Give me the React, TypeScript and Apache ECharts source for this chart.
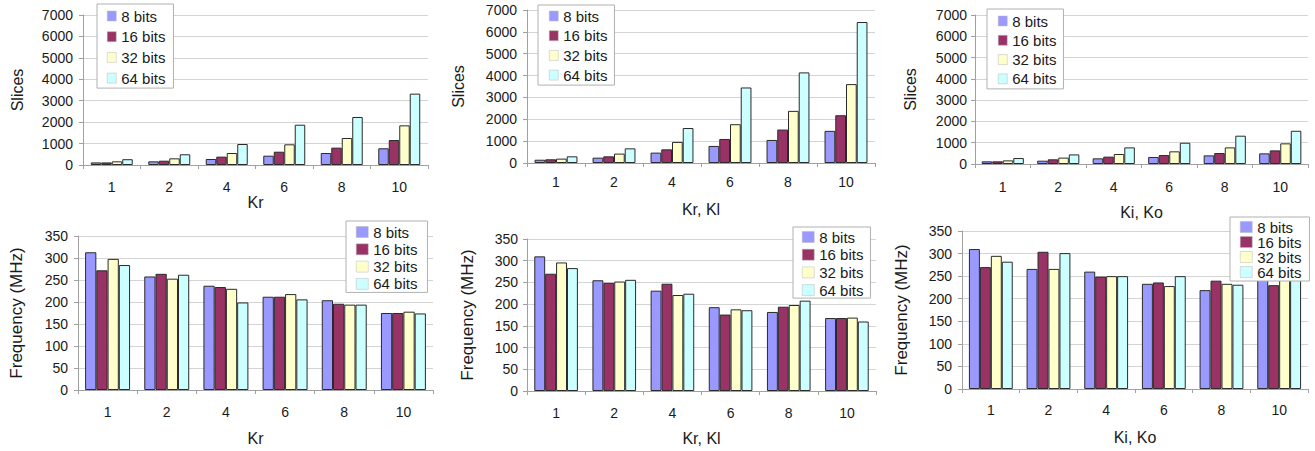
import React, { useEffect, useRef } from "react";
import * as echarts from "echarts";

const categories = ["1", "2", "4", "6", "8", "10"];
const seriesNames = ["8 bits", "16 bits", "32 bits", "64 bits"];
const colors = ["#9999FF", "#993366", "#FFFFCC", "#CCFFFF"];

// Top row: Slices
const slicesKr8 = [120, 170, 280, 435, 560, 780];
const slicesKr16 = [120, 200, 390, 620, 810, 1165];
const slicesKr32 = [170, 310, 560, 965, 1260, 1850];
const slicesKr64 = [270, 500, 980, 1880, 2240, 3330];

const slicesKrKl8 = [150, 245, 475, 780, 1055, 1470];
const slicesKrKl16 = [170, 305, 625, 1100, 1530, 2185];
const slicesKrKl32 = [200, 430, 965, 1775, 2385, 3610];
const slicesKrKl64 = [305, 670, 1600, 3455, 4145, 6450];

const slicesKiKo8 = [125, 155, 265, 330, 405, 500];
const slicesKiKo16 = [125, 220, 345, 420, 515, 640];
const slicesKiKo32 = [170, 300, 470, 595, 780, 970];
const slicesKiKo64 = [280, 450, 780, 1000, 1330, 1560];

// Bottom row: Frequency (MHz)
const freqKr8 = [313, 258, 237, 212, 204, 175];
const freqKr16 = [272, 264, 234, 212, 196, 175];
const freqKr32 = [298, 253, 230, 218, 194, 178];
const freqKr64 = [284, 262, 199, 206, 194, 174];

const freqKrKl8 = [310, 255, 231, 193, 182, 168];
const freqKrKl16 = [270, 249, 247, 176, 194, 168];
const freqKrKl32 = [296, 252, 221, 188, 198, 169];
const freqKrKl64 = [283, 256, 224, 186, 208, 160];

const freqKiKo8 = [310, 266, 260, 233, 219, 250];
const freqKiKo16 = [270, 304, 249, 236, 240, 230];
const freqKiKo32 = [295, 266, 250, 228, 233, 245];
const freqKiKo64 = [282, 301, 250, 250, 231, 248];

const slicesTicks = { max: 7000, interval: 1000 };
const freqTicks = { max: 350, interval: 50 };

const FONT = "'Liberation Sans', Arial, sans-serif";
const TXT = "#1a1a1a";

type Panel = {
  data: number[][];
  xName: string;
  yName: string;
  ticks: { max: number; interval: number };
  grid: { left: number; top: number; width: number; height: number };
  xLabelMargin: number;
  xNameGap: number;
  yNameGap: number;
  yLabelMargin: number;
  yNameSize: number;
  catGap: string;
  legend: { left: number; top: number; pad: number[]; gap: number; iw: number; ih: number };
};

const panels: Panel[] = [
  {
    data: [slicesKr8, slicesKr16, slicesKr32, slicesKr64],
    xName: "Kr", yName: "Slices", ticks: slicesTicks,
    grid: { left: 83, top: 15, width: 345, height: 150 },
    xLabelMargin: 15, xNameGap: 26, yNameGap: 58, yLabelMargin: 10, yNameSize: 16, catGap: "27%",
    legend: { left: 97, top: 4, pad: [4.5, 8, 2.5, 10], gap: 5.7, iw: 9, ih: 10 },
  },
  {
    data: [slicesKrKl8, slicesKrKl16, slicesKrKl32, slicesKrKl64],
    xName: "Kr, Kl", yName: "Slices", ticks: slicesTicks,
    grid: { left: 527, top: 10, width: 348, height: 153 },
    xLabelMargin: 12, xNameGap: 38, yNameGap: 61, yLabelMargin: 10, yNameSize: 16, catGap: "26%",
    legend: { left: 538, top: 5, pad: [3.5, 7, 2.5, 11], gap: 4.7, iw: 9, ih: 10 },
  },
  {
    data: [slicesKiKo8, slicesKiKo16, slicesKiKo32, slicesKiKo64],
    xName: "Ki, Ko", yName: "Slices", ticks: slicesTicks,
    grid: { left: 975, top: 15, width: 333, height: 149 },
    xLabelMargin: 16, xNameGap: 40, yNameGap: 57, yLabelMargin: 8, yNameSize: 16, catGap: "24%",
    legend: { left: 987, top: 9, pad: [4.5, 7, 2.5, 11], gap: 4.3, iw: 9, ih: 10 },
  },
  {
    data: [freqKr8, freqKr16, freqKr32, freqKr64],
    xName: "Kr", yName: "Frequency (MHz)", ticks: freqTicks,
    grid: { left: 78, top: 236, width: 355, height: 154 },
    xLabelMargin: 15, xNameGap: 40, yNameGap: 53, yLabelMargin: 10, yNameSize: 17, catGap: "24%",
    legend: { left: 346, top: 221, pad: [3.5, 10, 1, 10], gap: 2.3, iw: 12, ih: 11 },
  },
  {
    data: [freqKrKl8, freqKrKl16, freqKrKl32, freqKrKl64],
    xName: "Kr, Kl", yName: "Frequency (MHz)", ticks: freqTicks,
    grid: { left: 527, top: 239, width: 349, height: 152 },
    xLabelMargin: 15, xNameGap: 39, yNameGap: 51, yLabelMargin: 9, yNameSize: 17, catGap: "25%",
    legend: { left: 793, top: 227, pad: [2.5, 7, 0.5, 9], gap: 2.7, iw: 12, ih: 11 },
  },
  {
    data: [freqKiKo8, freqKiKo16, freqKiKo32, freqKiKo64],
    xName: "Ki, Ko", yName: "Frequency (MHz)", ticks: freqTicks,
    grid: { left: 962, top: 231, width: 346, height: 158 },
    xLabelMargin: 14, xNameGap: 40, yNameGap: 52, yLabelMargin: 10, yNameSize: 17, catGap: "24%",
    legend: { left: 1230, top: 217, pad: [2.5, 8, 1.5, 10], gap: 0, iw: 12, ih: 11 },
  },
];

function buildOption() {
  const grid: any[] = [];
  const xAxis: any[] = [];
  const yAxis: any[] = [];
  const series: any[] = [];
  const legend: any[] = [];

  panels.forEach((p, i) => {
    grid.push({ ...p.grid, containLabel: false });
    xAxis.push({
      type: "category",
      gridIndex: i,
      data: categories,
      name: p.xName,
      nameLocation: "middle",
      nameGap: p.xNameGap,
      nameTextStyle: { fontFamily: FONT, fontSize: 16, color: TXT },
      axisLine: { lineStyle: { color: "#a0a0a0", width: 1 } },
      axisTick: { show: true, length: 4, alignWithLabel: false, lineStyle: { color: "#a0a0a0" } },
      axisLabel: { fontFamily: FONT, fontSize: 14, color: TXT, margin: p.xLabelMargin },
      splitLine: { show: false },
    });
    yAxis.push({
      type: "value",
      gridIndex: i,
      min: 0,
      max: p.ticks.max,
      interval: p.ticks.interval,
      name: p.yName,
      nameLocation: "middle",
      nameRotate: 90,
      nameGap: p.yNameGap,
      nameTextStyle: { fontFamily: FONT, fontSize: p.yNameSize, color: TXT },
      axisLine: { show: true, lineStyle: { color: "#a0a0a0", width: 1 } },
      axisTick: { show: true, length: 4, lineStyle: { color: "#a0a0a0" } },
      axisLabel: {
        fontFamily: FONT,
        fontSize: 14,
        color: TXT,
        margin: p.yLabelMargin,
        formatter: (v: number) => String(v),
      },
      splitLine: { show: true, lineStyle: { color: "#d4d4d4", width: 1 } },
    });
    p.data.forEach((vals, k) => {
      series.push({
        type: "bar",
        name: seriesNames[k],
        xAxisIndex: i,
        yAxisIndex: i,
        data: vals,
        barGap: "0%",
        barCategoryGap: p.catGap,
        itemStyle: { color: colors[k], borderColor: "#2a2a2a", borderWidth: 1 },
        emphasis: { disabled: true },
      });
    });
    legend.push({
      orient: "vertical",
      left: p.legend.left,
      top: p.legend.top,
      padding: p.legend.pad,
      itemGap: p.legend.gap,
      itemWidth: p.legend.iw,
      itemHeight: p.legend.ih,
      icon: "rect",
      backgroundColor: "#ffffff",
      borderColor: "#b0b0b0",
      borderWidth: 1,
      borderRadius: 0,
      data: seriesNames,
      itemStyle: { borderWidth: 0.5, borderColor: "#b8b8b8" },
      textStyle: { fontFamily: FONT, fontSize: 15, lineHeight: 15, color: TXT },
      selectedMode: false,
      z: 10,
    });
  });

  return {
    animation: false,
    backgroundColor: "#ffffff",
    grid,
    xAxis,
    yAxis,
    series,
    legend,
  };
}

export default function App() {
  const ref = useRef<HTMLDivElement>(null);
  useEffect(() => {
    if (!ref.current) return;
    const chart = echarts.init(ref.current, undefined, { renderer: "svg" });
    chart.setOption(buildOption());
    return () => chart.dispose();
  }, []);
  return (
    <div
      ref={ref}
      style={{ position: "absolute", left: 0, top: 0, width: 1315, height: 451, background: "#fff" }}
    />
  );
}
